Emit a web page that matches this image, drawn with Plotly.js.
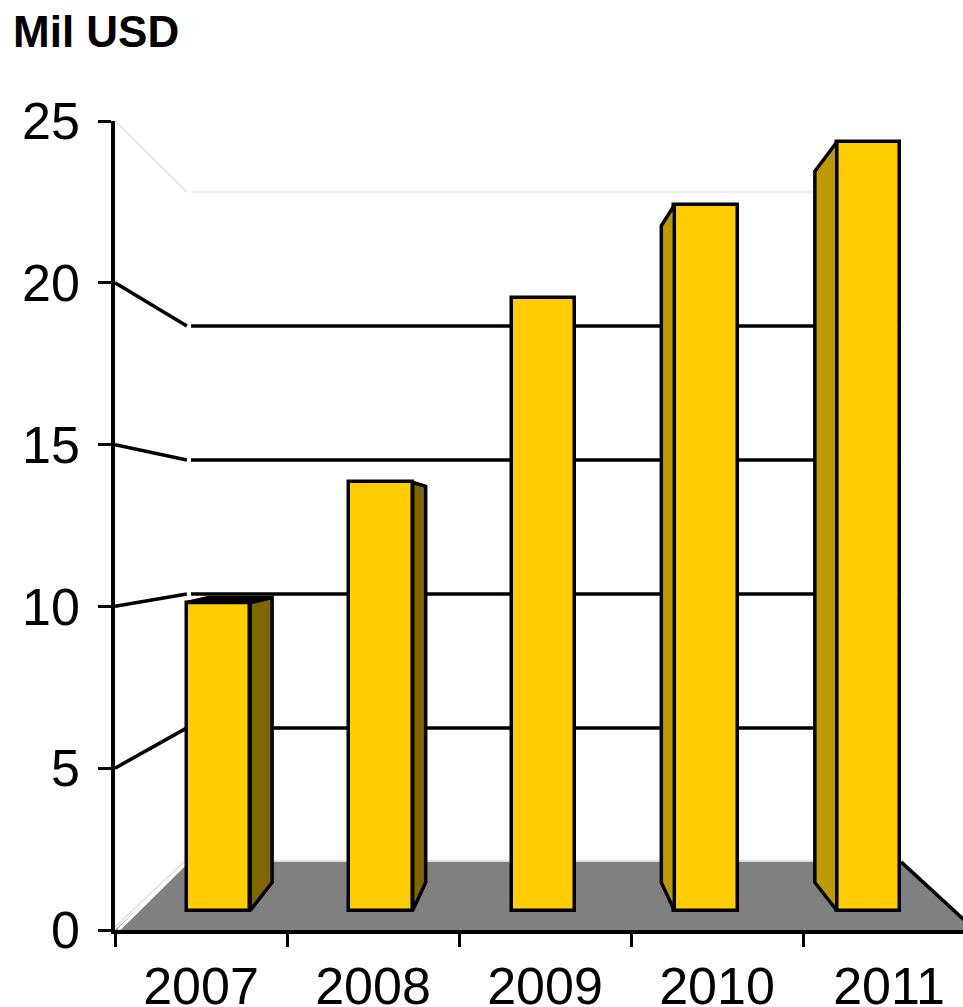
<!DOCTYPE html>
<html><head><meta charset="utf-8">
<script src="https://cdn.plot.ly/plotly-3.0.1.min.js"></script>
<style>html,body{margin:0;padding:0;background:#fff;overflow:hidden}</style>
</head><body><div id="chart" style="width:963px;height:1007px"></div>
<script>
// --- data ---
const years = ['2007','2008','2009','2010','2011'];
const values = [10.0, 13.9, 19.9, 22.9, 24.95];
const gridValues = [5, 10, 15, 20];
const yTicks = [0, 5, 10, 15, 20, 25];
// --- perspective of the drawing ---
const sideOffset = [0.135, 0.08, 0, -0.08, -0.135]; // sideways depth of each bar
const topDepth = [0.0745, 0.0745, 0, 0.0625, 0.0745];
const floorDepth = 0.0745;
const vanishFront = 12.22;   // eye level on the front plane
const vanishBase = 12.24;    // eye level on the outer plane
const vanishX = 2.5;
const wallScale = 0.828;
const barWidth = 0.39;
const maxX = 4.93;

const BLACK = '#000000', YELLOW = '#FFCC00', LIGHT = '#dcdcdc';
const wallX = x => vanishX + wallScale * (x - vanishX);
const wallY = v => vanishBase + wallScale * (v - vanishBase);
const backY = (v, k) => v + k * (vanishFront - v);

const traces = [];
// floor
const wl = wallX(0), wr = wallX(5);
traces.push({type:'scatter', mode:'lines', x:[0,wl,wr,5,0], y:[0,wallY(0),wallY(0),0,0],
  fill:'toself', fillcolor:'#808080', line:{width:0}, hoverinfo:'skip', showlegend:false, cliponaxis:true});
traces.push({type:'scatter', mode:'lines', x:[0.02,wl-0.01], y:[0,wallY(0)], line:{color:'#ffffff',width:3}, hoverinfo:'skip', showlegend:false});
traces.push({type:'scatter', mode:'lines', x:[0,wl-0.02,null,wl,wr], y:[0.1,wallY(0)+0.05,null,wallY(0)+0.05,wallY(0)+0.05], line:{color:LIGHT,width:1.2}, hoverinfo:'skip', showlegend:false});
traces.push({type:'scatter', mode:'lines', x:[wr,5], y:[wallY(0),0], line:{color:BLACK,width:3.5}, hoverinfo:'skip', showlegend:false});
// top of the wall: pale
traces.push({type:'scatter', mode:'lines', x:[0,wl-0.012,null,wl+0.012,wr], y:[25,wallY(25),null,wallY(25),wallY(25)],
  line:{color:LIGHT,width:1.2}, hoverinfo:'skip', showlegend:false});
// gridlines: from the axis to the back wall and across it
gridValues.forEach(v => traces.push({type:'scatter', mode:'lines',
  x:[0,wl-0.012,null,wl+0.012,wr], y:[v,wallY(v),null,wallY(v),wallY(v)],
  line:{color:BLACK,width:3.5}, hoverinfo:'skip', showlegend:false}));

// side and top faces, from the values, on the front-plane axes
values.forEach((v,i) => {
  const d = sideOffset[i];
  if (d === 0) return;
  const edge = d > 0 ? i + barWidth/2 : i - barWidth/2;
  traces.push({type:'scatter', mode:'lines', xaxis:'x2', yaxis:'y2',
    x:[edge, edge+d, edge+d, edge, edge],
    y:[0, backY(0,floorDepth), backY(v,topDepth[i]), v, 0],
    fill:'toself', fillcolor: d > 0 ? '#806600' : '#BF9900',
    line:{color:BLACK,width:3.5}, hoverinfo:'skip', showlegend:false});
  if (v < vanishFront) {
    const far = i - barWidth/2 + d, near = i - barWidth/2;
    traces.push({type:'scatter', mode:'lines', xaxis:'x2', yaxis:'y2',
      x:[near, far, edge+d, edge, near],
      y:[v, backY(v,topDepth[i]), backY(v,topDepth[i]), v, v],
      fill:'toself', fillcolor:BLACK, line:{color:BLACK,width:3.5}, hoverinfo:'skip', showlegend:false});
  }
});
// front faces
traces.push({type:'bar', xaxis:'x2', yaxis:'y2', x:years.map((_,i)=>i), y:values, width:barWidth,
  marker:{color:YELLOW, line:{color:BLACK,width:3.5}}, showlegend:false, name:'Mil USD'});

const font = {family:'"Liberation Sans", Arial, sans-serif', size:52, color:BLACK};
const layout = {
  width:963, height:1007, paper_bgcolor:'#fff', plot_bgcolor:'#fff', showlegend:false,
  margin:{l:115, r:0, t:121, b:77, pad:0},
  title:{text:'<b>Mil USD</b>', x:13/963, xanchor:'left', xref:'container', y:1-32/1007, yanchor:'middle', yref:'container',
    font:{family:font.family, size:44, color:BLACK}},
  bargap:0,
  xaxis:{range:[0,maxX], tickmode:'array', tickvals:years.map((_,i)=>i+0.5), ticktext:years, ticks:'', tickfont:font,
    showgrid:false, zeroline:false, showline:true, linecolor:BLACK, linewidth:3.5, ticklabelstandoff:8,
    minor:{tickmode:'array', tickvals:[0,1,2,3,4,5], ticks:'outside', ticklen:13, tickwidth:3, tickcolor:BLACK, showgrid:false}},
  yaxis:{range:[0,25], tickmode:'array', tickvals:yTicks, ticktext:yTicks.map(String), ticks:'outside', ticklen:13, tickwidth:3, tickcolor:BLACK, tickfont:font,
    showgrid:false, zeroline:false, showline:true, linecolor:BLACK, linewidth:3.5, ticklabelstandoff:8},
  xaxis2:{overlaying:'x', anchor:'y2', range:[(115-218.5)/162.5,(963-218.5)/162.5], visible:false, fixedrange:true},
  yaxis2:{overlaying:'y', anchor:'x2', range:[-(930-910.5)/30.8,(910.5-121)/30.8], visible:false, fixedrange:true}
};
Plotly.newPlot('chart', traces, layout, {displayModeBar:false, responsive:false});
</script></body></html>
